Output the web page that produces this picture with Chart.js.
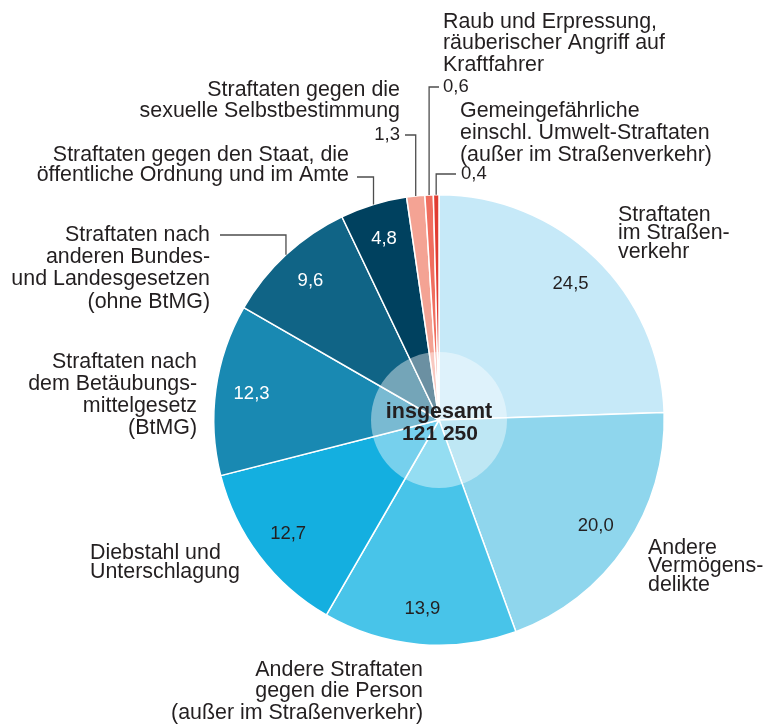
<!DOCTYPE html>
<html lang="de">
<head>
<meta charset="utf-8">
<script src="https://cdn.jsdelivr.net/npm/chart.js@4.4.0/dist/chart.umd.min.js"></script>
<style>
  body { margin: 0; background: #fff; }
  #wrap { width: 765px; height: 724px; }
</style>
</head>
<body>
<div id="wrap"><canvas id="pieChart" width="765" height="724"></canvas></div>
<script>
// Anteile in Prozent, im Uhrzeigersinn ab 12 Uhr
const categories = [
    ['Straftaten', 'im Straßen-', 'verkehr'],
    ['Andere', 'Vermögens-', 'delikte'],
    ['Andere Straftaten', 'gegen die Person', '(außer im Straßenverkehr)'],
    ['Diebstahl und', 'Unterschlagung'],
    ['Straftaten nach', 'dem Betäubungs-', 'mittelgesetz', '(BtMG)'],
    ['Straftaten nach', 'anderen Bundes-', 'und Landesgesetzen', '(ohne BtMG)'],
    ['Straftaten gegen den Staat, die', 'öffentliche Ordnung und im Amte'],
    ['Straftaten gegen die', 'sexuelle Selbstbestimmung'],
    ['Raub und Erpressung,', 'räuberischer Angriff auf', 'Kraftfahrer'],
    ['Gemeingefährliche', 'einschl. Umwelt-Straftaten', '(außer im Straßenverkehr)']
];
const values = [24.5, 20.0, 13.9, 12.7, 12.3, 9.6, 4.8, 1.3, 0.6, 0.4];
const totalLabel = ['insgesamt', '121 250'];

const sliceColors = [
    '#c6e9f8', '#8fd6ed', '#48c4e9', '#14afe0', '#1989b2',
    '#106486', '#00415f', '#f4a394', '#f06e5f', '#e13c32'
];

const textColor = '#231f20';
const fontFamily = '"Liberation Sans", Arial, Helvetica, sans-serif';

// Beschriftungen: Position der ersten Zeile, Ausrichtung, Zeilenabstand
const labelLayout = [
    { x: 618, y: 215, align: 'left', lh: 18.5 },
    { x: 648, y: 548, align: 'left', lh: 18.5 },
    { x: 423, y: 670, align: 'right', lh: 21.5 },
    { x: 90, y: 553, align: 'left', lh: 19.5 },
    { x: 197, y: 362, align: 'right', lh: 22 },
    { x: 210, y: 235, align: 'right', lh: 22.3, leader: { y: 235, x: 220 } },
    { x: 349, y: 155, align: 'right', lh: 20.5, leader: { y: 177, x: 357 } },
    { x: 400, y: 90, align: 'right', lh: 21, value: { x: 400, y: 135 }, leader: { y: 135, x: 405 } },
    { x: 443, y: 22, align: 'left', lh: 21.5, value: { x: 443, y: 87 }, leader: { y: 87, x: 439 } },
    { x: 460, y: 111, align: 'left', lh: 22, value: { x: 461, y: 174 }, leader: { y: 174, x: 456 } }
];
const whiteValue = [false, false, false, false, true, true, true];

function fmt(v) {
    return v.toFixed(1).replace('.', ',');
}

const labelPlugin = {
    id: 'pieLabels',
    afterDatasetsDraw(chart) {
        const ctx = chart.ctx;
        const arcs = chart.getDatasetMeta(0).data;
        const cx = arcs[0].x;
        const cy = arcs[0].y;

        ctx.save();

        // halbtransparenter Innenkreis
        ctx.beginPath();
        ctx.arc(cx, cy, 68, 0, Math.PI * 2);
        ctx.fillStyle = 'rgba(255,255,255,0.42)';
        ctx.fill();

        ctx.fillStyle = textColor;
        ctx.textAlign = 'center';
        ctx.textBaseline = 'middle';
        ctx.font = 'bold 21.5px ' + fontFamily;
        ctx.fillText(totalLabel[0], cx, cy - 8);
        ctx.font = 'bold 21px ' + fontFamily;
        ctx.fillText(totalLabel[1], cx + 1, cy + 14);

        arcs.forEach((arc, i) => {
            const mid = (arc.startAngle + arc.endAngle) / 2;
            const lay = labelLayout[i];

            // Werte in den Segmenten
            ctx.font = '18.5px ' + fontFamily;
            if (!lay.value) {
                const r = arc.outerRadius * 0.84;
                ctx.textAlign = 'center';
                ctx.fillStyle = whiteValue[i] ? '#ffffff' : textColor;
                ctx.fillText(fmt(values[i]), cx + r * Math.cos(mid), cy + r * Math.sin(mid));
            } else {
                ctx.textAlign = lay.align;
                ctx.fillStyle = textColor;
                ctx.fillText(fmt(values[i]), lay.value.x, lay.value.y);
            }

            // Hinweislinien
            if (lay.leader) {
                const ex = cx + arc.outerRadius * Math.cos(mid);
                const ey = cy + arc.outerRadius * Math.sin(mid);
                ctx.beginPath();
                ctx.moveTo(ex, ey);
                ctx.lineTo(ex, lay.leader.y);
                ctx.lineTo(lay.leader.x, lay.leader.y);
                ctx.strokeStyle = '#4d4d4d';
                ctx.lineWidth = 1.3;
                ctx.stroke();
            }

            // Kategorienamen
            ctx.font = '21.4px ' + fontFamily;
            ctx.textAlign = lay.align;
            ctx.fillStyle = textColor;
            categories[i].forEach((line, k) => {
                ctx.fillText(line, lay.x, lay.y + k * lay.lh);
            });
        });

        ctx.restore();
    }
};

const pieChart = new Chart(document.getElementById('pieChart').getContext('2d'), {
    type: 'pie',
    data: {
        labels: categories.map(c => c.join(' ')),
        datasets: [{
            data: values,
            backgroundColor: sliceColors,
            borderColor: '#ffffff',
            borderWidth: 1.5
        }]
    },
    options: {
        responsive: false,
        animation: false,
        layout: {
            padding: { left: 213, right: 100, top: 194, bottom: 78 }
        },
        plugins: {
            legend: { display: false },
            tooltip: { enabled: false }
        }
    },
    plugins: [labelPlugin]
});
</script>
</body>
</html>
